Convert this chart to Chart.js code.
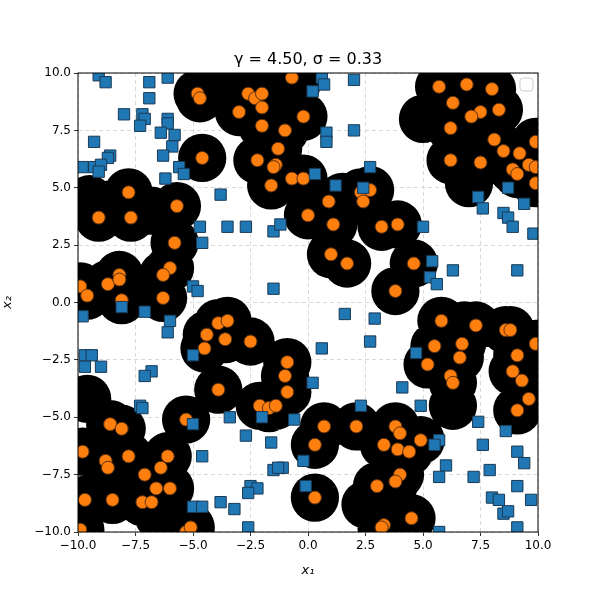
<!DOCTYPE html>
<html><head><meta charset="utf-8">
<script src="https://cdn.jsdelivr.net/npm/chart.js@4"></script>
<style>html,body{margin:0;background:#fff}#c{width:600px;height:600px}</style>
</head><body><div id="c"><canvas id="cv" width="600" height="600"></canvas></div>
<script>
const titleText = "γ = 4.50, σ = 0.33";
const tickValues = [-10, -7.5, -5, -2.5, 0, 2.5, 5, 7.5, 10];
const orangeX = [-0.7,-4.8,-4.7,-2.6,-2.3,-2.0,-3.0,-2.0,-0.2,-2.0,-1.0,-4.6,-1.3,-2.2,-1.4,-1.5,-0.7,-0.2,-1.6,0.0,-7.8,-9.1,-7.7,-5.7,-5.8,-6.0,-6.3,-6.3,-9.9,-9.6,-8.7,-8.2,-8.2,-8.1,
 5.7,6.9,8.0,6.3,7.5,7.1,8.3,6.2,8.1,9.9,8.5,9.2,6.2,7.5,9.6,9.9,8.9,9.1,9.9,0.9,1.1,2.3,2.7,2.4,3.2,3.9,1.0,1.7,4.6,3.8,
 -3.9,-3.5,-4.4,-3.6,-4.5,-2.5,-0.9,-1.0,-0.9,-3.9,-2.1,-1.7,-1.4,-5.3,-8.6,-8.1,-9.8,-8.8,-8.7,-7.8,-6.1,-6.4,-7.1,-6.6,-6.0,-9.7,-8.5,-7.2,-6.8,-9.9,-5.3,-5.1,
 5.8,7.3,8.6,8.8,5.5,6.7,6.6,9.9,9.1,8.9,9.3,9.6,9.1,5.2,6.2,6.3,0.7,2.1,0.3,3.8,4.0,3.3,3.9,4.4,4.9,4.0,3.8,3.0,0.3,4.5,3.3,3.2];
const orangeY = [9.8,9.1,8.9,9.1,8.9,9.1,8.3,8.5,8.1,7.7,7.5,6.3,6.7,6.2,6.0,5.9,5.4,5.4,5.1,3.8,4.8,3.7,3.7,4.2,2.6,1.5,1.2,0.2,0.7,0.3,0.8,1.2,1.0,0.1,
 9.4,9.5,9.3,8.7,8.3,8.1,8.4,7.6,7.1,7.0,6.6,6.5,6.2,6.1,6.0,5.9,5.8,5.6,5.2,4.4,3.4,4.8,4.9,4.4,3.3,3.4,2.1,1.7,1.7,0.5,
 -0.9,-0.8,-1.4,-1.6,-2.0,-1.7,-2.6,-3.2,-3.9,-3.8,-4.5,-4.6,-4.5,-5.1,-5.3,-5.5,-6.5,-6.9,-7.2,-6.7,-6.7,-7.2,-7.5,-8.1,-8.1,-8.6,-8.6,-8.7,-8.7,-9.9,-10.0,-9.8,
 -0.8,-1.0,-1.2,-1.2,-1.9,-1.8,-2.4,-1.8,-2.3,-3.0,-3.4,-4.2,-4.7,-2.7,-3.2,-3.5,-5.4,-5.4,-6.2,-5.4,-5.7,-6.2,-6.4,-6.5,-6.0,-7.5,-7.8,-8.0,-8.5,-9.4,-9.7,-9.8];
const blueX = [-9.1,-8.8,-6.9,-6.1,-6.9,-8.0,-7.2,-7.1,-7.3,-6.1,-6.1,-6.4,-5.8,-5.9,-9.3,-8.6,-8.7,-9.8,-9.3,-9.0,-9.1,-6.3,-5.6,-5.4,-6.2,-3.8,-4.7,-4.6,-3.5,-2.7,-1.5,-1.2,-1.5,-5.0,-4.8,
 0.6,0.7,0.2,2.0,2.0,0.8,0.8,2.7,0.3,1.2,2.4,5.0,5.4,5.3,5.6,6.3,8.7,7.4,7.6,8.5,8.7,9.4,8.9,9.8,9.1,
 -8.1,-7.1,-6.0,-6.1,-9.8,-9.7,-9.4,-9.7,-9.0,-5.0,-6.8,-7.1,-7.3,-7.2,-5.0,-3.4,-2.0,-0.6,-2.7,-1.6,-4.6,-1.5,-1.1,-1.3,-0.2,-2.5,-2.2,-2.6,-0.1,-3.8,-3.2,-5.0,-4.6,-2.6,
 1.6,2.9,2.7,0.6,4.7,0.2,4.1,2.3,4.9,7.4,8.6,5.7,5.5,7.6,9.1,9.4,6.0,7.9,5.7,7.2,9.1,8.0,8.3,8.5,8.7,9.7,9.1,5.7];
const blueY = [9.9,9.6,9.6,9.8,8.9,8.2,8.2,8.0,7.7,8.0,7.8,7.4,7.3,6.8,7.0,6.4,6.3,5.9,5.9,6.0,5.7,6.4,5.9,5.6,5.4,4.7,3.3,2.6,3.3,3.3,3.1,3.4,0.6,0.7,0.5,
 9.8,9.5,9.2,9.7,7.5,7.4,7.0,5.9,5.6,5.1,5.0,3.3,1.8,1.1,0.8,1.4,5.0,4.6,4.1,3.9,3.7,4.3,3.3,3.0,1.4,
 -0.2,-0.4,-0.8,-1.3,-0.6,-2.3,-2.3,-2.8,-2.8,-2.3,-3.0,-3.2,-4.5,-4.6,-5.3,-5.0,-5.0,-5.1,-5.8,-6.1,-6.7,-7.3,-7.2,-7.2,-6.9,-8.0,-8.1,-8.3,-8.0,-8.7,-9.0,-8.9,-8.9,-9.8,
 -0.5,-0.7,-1.7,-2.0,-2.2,-3.5,-3.7,-4.5,-4.5,-5.2,-5.6,-6.0,-6.2,-6.2,-6.5,-7.0,-7.1,-7.3,-7.6,-7.6,-8.0,-8.5,-8.6,-9.2,-9.1,-8.6,-9.8,-10.0];
// extra centres of the dark decision region that hold no orange point
const regionX = [6.3, -4.0, -0.5, 7.0, 1.5, -9.5, -9.6, 5.0, 2.5, -8.5, -6.8, -6.5, 6.8];
const regionY = [-4.5, 9.5, 9.5, 5.2, 4.6, 4.5, -4.2, 8.0, -8.8, 4.3, 4.0, -9.3, -1.0];
const regionRadius = 1.05;

const toPts = (xs, ys) => xs.map((x, i) => ({x, y: ys[i]}));
const orange = toPts(orangeX, orangeY);
const blue = toPts(blueX, blueY);
const region = toPts(orangeX.concat(regionX), orangeY.concat(regionY));

const regionPlugin = {
  id: 'region',
  beforeDatasetsDraw(chart) {
    const {ctx, chartArea: a, scales: {x, y}} = chart;
    ctx.save();
    ctx.beginPath(); ctx.rect(a.left, a.top, a.right - a.left, a.bottom - a.top); ctx.clip();
    ctx.fillStyle = '#000';
    const r = Math.abs(x.getPixelForValue(regionRadius) - x.getPixelForValue(0));
    ctx.beginPath();
    region.forEach(p => {
      const px = x.getPixelForValue(p.x), py = y.getPixelForValue(p.y);
      ctx.moveTo(px + r, py); ctx.arc(px, py, r, 0, Math.PI * 2);
    });
    ctx.fill();
    ctx.restore();
  },
  afterDraw(chart) {
    const {ctx, chartArea: a} = chart;
    ctx.save();
    ctx.fillStyle = '#000';
    ctx.font = '16px "DejaVu Sans"';
    ctx.textAlign = 'center'; ctx.textBaseline = 'alphabetic';
    ctx.fillText(titleText, (a.left + a.right) / 2, a.top - 9);
    ctx.strokeStyle = '#ccc'; ctx.lineWidth = 1; ctx.fillStyle = 'rgba(255,255,255,0.8)';
    ctx.beginPath(); ctx.roundRect(a.right - 18, a.top + 5, 13, 13, 3); ctx.fill(); ctx.stroke();
    ctx.strokeStyle = '#000';
    ctx.strokeRect(a.left, a.top, a.right - a.left, a.bottom - a.top);
    ctx.restore();
  }
};

const fmt = v => (v < 0 ? '\u2212' : '') + Math.abs(v).toFixed(1);
const axis = (title, isX) => ({
  type: 'linear', min: -10, max: 10,
  afterBuildTicks: s => { s.ticks = tickValues.map(v => ({value: v})); },
  ticks: {callback: fmt, color: '#000', font: {family: 'DejaVu Sans', size: 12}, maxRotation: 0, autoSkip: false, padding: 3},
  grid: {color: '#d0d0d0', lineWidth: 0.8, tickColor: '#000', tickLength: 4, drawTicks: true},
  border: {display: false, dash: [4, 3]},
  title: {display: true, text: title, color: '#000', font: {family: 'DejaVu Sans', size: 13, style: 'italic'}, padding: {top: 0, bottom: 0}},
  afterFit: s => { if (isX) s.height = 46; else s.width = 78; }
});

new Chart(document.getElementById('cv'), {
  type: 'scatter',
  data: {datasets: [
    {data: blue, pointStyle: 'rect', pointRadius: 8, backgroundColor: '#1f77b4', borderColor: '#1a3a55', borderWidth: 1},
    {data: orange, pointStyle: 'circle', pointRadius: 6.5, backgroundColor: '#ff7f0e', borderColor: '#5a3010', borderWidth: 1}
  ]},
  options: {
    responsive: false, animation: false,
    layout: {padding: {top: 73, right: 62, left: 0, bottom: 22}},
    plugins: {legend: {display: false}, tooltip: {enabled: false}},
    scales: {x: axis('x\u2081', true), y: axis('x\u2082', false)}
  },
  plugins: [regionPlugin]
});
</script></body></html>
